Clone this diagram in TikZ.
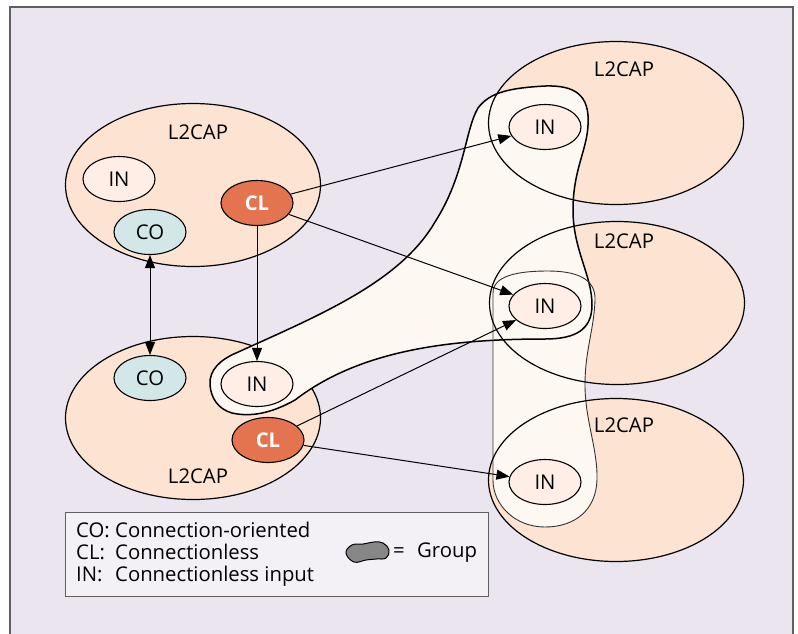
\documentclass[tikz,border=0pt]{standalone}
\usepackage{fontspec}
\setmainfont{Open Sans}
\usetikzlibrary{shapes.geometric,arrows.meta}
\definecolor{bglav}{RGB}{234,229,239}
\definecolor{framegray}{RGB}{95,95,95}
\definecolor{peach}{RGB}{253,228,210}
\definecolor{infill}{RGB}{254,238,229}
\definecolor{cream}{RGB}{254,248,242}
\definecolor{cofill}{RGB}{211,231,232}
\definecolor{clfill}{RGB}{228,115,80}
\definecolor{legfill}{RGB}{243,240,246}
\definecolor{blobgray}{RGB}{135,135,135}
\begin{document}
\begin{tikzpicture}[x=1pt,y=-1pt,
  font=\fontsize{20.3}{23}\selectfont,
  l2fill/.style={ellipse, minimum width=255pt, minimum height=163pt, inner sep=0pt, fill=peach},
  l2draw/.style={ellipse, minimum width=255pt, minimum height=163pt, inner sep=0pt, draw=black, line width=1.2pt},
  l2both/.style={ellipse, minimum width=255pt, minimum height=163pt, inner sep=0pt, fill=peach, draw=black, line width=1.2pt},
  innode/.style={ellipse, draw=black, line width=1.1pt, fill=infill, minimum width=72pt, minimum height=45pt, inner sep=0pt},
  conode/.style={innode, fill=cofill},
  clnode/.style={innode, fill=clfill, text=white, font=\fontsize{20.3}{23}\selectfont\bfseries},
  grpA/.style={draw=black, line width=1.5pt},
  grpB/.style={draw=black!80, line width=0.9pt},
  arr/.style={-{Triangle[length=13pt,width=10pt]}, line width=1pt},
  darr/.style={{Triangle[length=13pt,width=10pt]}-{Triangle[length=13pt,width=10pt]}, line width=1pt},
  lbl/.style={inner sep=0pt},
  legtext/.style={inner sep=0pt, anchor=base west}
]
\useasboundingbox (0,0) rectangle (798,633);
% background frame
\draw[fill=bglav, draw=framegray, line width=1.3pt] (10,7) rectangle (793,660);

% right L2CAP fills
\node[l2fill] (R1) at (616,123) {};
\node[l2fill] (R2) at (617,303) {};
\node[l2fill] (R3) at (616,480) {};
% left L2CAP
\node[l2both] (L1) at (193,185) {};
\node[l2both] (L2) at (193,418) {};

\def\grouppathA{(210,385) .. controls (209,370) and (220,360) .. (236,353)
  .. controls (320,315) and (400,282) .. (435,222)
  .. controls (465,175) and (465,130) .. (478,108)
  .. controls (490,92) and (510,88) .. (545,86)
  .. controls (575,85) and (590,95) .. (588,125)
  .. controls (587,150) and (573,170) .. (573,210)
  .. controls (573,250) and (592,275) .. (592,305)
  .. controls (592,330) and (575,339) .. (545,339)
  .. controls (450,339) and (360,350) .. (295,400)
  .. controls (270,414) and (250,417) .. (232,413)
  .. controls (218,409) and (211,398) .. (210,385) -- cycle}
\def\grouppathB{(493,480) -- (493,293) .. controls (493,275) and (520,271) .. (548,271)
  .. controls (575,271) and (596,278) .. (595,300)
  .. controls (594,330) and (585,350) .. (585,385)
  .. controls (585,420) and (598,450) .. (597,480)
  .. controls (596,510) and (575,527) .. (545,527)
  .. controls (515,527) and (493,505) .. (493,480) -- cycle}
% group fills
\path[fill=cream] \grouppathA;
\path[fill=cream] \grouppathB;
% group outlines
\draw[grpA] \grouppathA;
\draw[grpB] \grouppathB;

% right L2CAP outlines
\node[l2draw] (R1o) at (R1) {};
\node[l2draw] (R2o) at (R2) {};
\node[l2draw] (R3o) at (R3) {};

% L2CAP labels
\node[lbl] (tL1) at (198,132) {L2CAP};
\node[lbl] (tL2) at (198,476) {L2CAP};
\node[lbl] (tR1) at (624,69) {L2CAP};
\node[lbl] (tR2) at (624,241) {L2CAP};
\node[lbl] (tR3) at (624,425) {L2CAP};

% inner nodes
\node[innode] (in1) at (119,179) {IN};
\node[conode] (co1) at (150,232) {CO};
\node[clnode] (cl1) at (257,203) {CL};
\node[conode] (co2) at (150,378) {CO};
\node[innode] (in2) at (257,384) {IN};
\node[clnode] (cl2) at (268,440) {CL};
\node[innode] (inR1) at (545,127) {IN};
\node[innode] (inR2) at (545,306) {IN};
\node[innode] (inR3) at (545,482) {IN};

% connectors
\draw[darr] (co1) -- (co2);
\draw[arr] (cl1) -- (in2);
\draw[arr] (cl1) -- (inR1);
\draw[arr] (cl1) -- (inR2);
\draw[arr] (cl2) -- (inR2);
\draw[arr] (cl2) -- (inR3);

% legend
\node[draw=framegray, line width=1.1pt, fill=legfill, anchor=north west,
      minimum width=423pt, minimum height=84pt, inner sep=0pt] (legend) at (65,512) {};
\node[legtext] (k1) at (76,537) {CO:};
\node[legtext] (d1) at (115,537) {Connection-oriented};
\node[legtext] (k2) at (76,559) {CL:};
\node[legtext] (d2) at (115,559) {Connectionless};
\node[legtext] (k3) at (76,581) {IN:};
\node[legtext] (d3) at (115,581) {Connectionless input};
\filldraw[fill=blobgray, draw=black, line width=1pt] plot[smooth cycle, tension=0.7] coordinates {
 (346,553) (352,545) (363,544) (374,542) (383,543) (389,550) (386,558) (376,559) (366,560) (354,562)};
\node[legtext] (eq) at (393,557) {=};
\node[legtext] (grp) at (417,557) {Group};
\end{tikzpicture}
\end{document}
